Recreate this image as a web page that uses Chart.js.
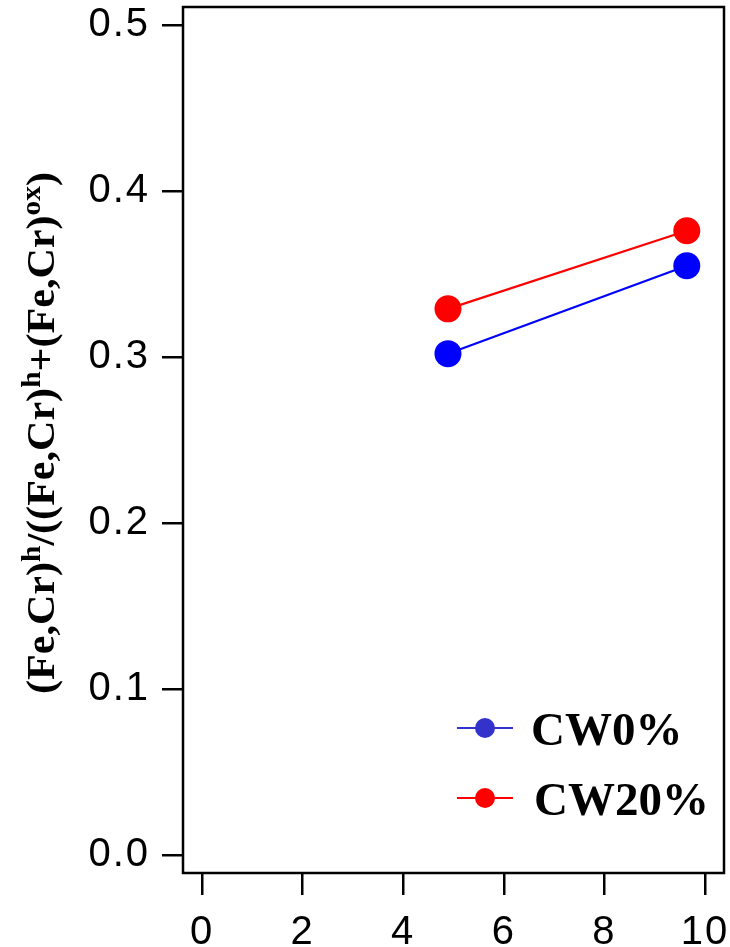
<!DOCTYPE html>
<html>
<head>
<meta charset="utf-8">
<script src="https://cdn.jsdelivr.net/npm/chart.js@4"></script>
<style>
  html, body { margin: 0; padding: 0; background: #fff; }
  canvas { display: block; }
</style>
</head>
<body>
<canvas id="chart" width="730" height="947"></canvas>
<script>
// values
const X_TICKS = [0, 2, 4, 6, 8, 10];
const Y_TICKS = [0.0, 0.1, 0.2, 0.3, 0.4, 0.5];
const CW0_X = [4.89, 9.64];
const CW0_Y = [0.302, 0.355];
const CW20_X = [4.89, 9.64];
const CW20_Y = [0.329, 0.376];
const SERIES_LABELS = ['CW0%', 'CW20%'];
const TITLE_PARTS = [
  ['(Fe,Cr)', false], ['h', true], ['/((Fe,Cr)', false], ['h', true],
  ['+(Fe,Cr)', false], ['ox', true], [')', false],
];

const toPoints = (xs, ys) => xs.map((x, i) => ({ x, y: ys[i] }));

// tick labels in the original are a little spaced out
const spacing = {
  id: 'spacing',
  beforeDraw(chart) { chart.ctx.letterSpacing = '2px'; },
  afterDatasetsDraw(chart) { chart.ctx.letterSpacing = '0px'; },
};

const frame = {
  id: 'frame',
  afterDraw(chart) {
    const { ctx, chartArea: a } = chart;
    ctx.save();
    ctx.strokeStyle = '#000';
    ctx.lineWidth = 2.5;
    ctx.strokeRect(a.left, a.top, a.right - a.left, a.bottom - a.top);
    ctx.restore();
  },
};

const yTitle = {
  id: 'yTitle',
  afterDraw(chart) {
    const ctx = chart.ctx;
    const main = 'bold 40px "Liberation Serif", "Times New Roman", serif';
    const sup = 'bold 28px "Liberation Serif", "Times New Roman", serif';
    ctx.save();
    ctx.letterSpacing = '0px';
    let total = 0;
    TITLE_PARTS.forEach(([t, s]) => { ctx.font = s ? sup : main; total += ctx.measureText(t).width; });
    const len = 522;
    ctx.translate(54, 433);
    ctx.rotate(-Math.PI / 2);
    ctx.scale(len / total, 1);
    ctx.fillStyle = '#000';
    ctx.textBaseline = 'alphabetic';
    let x = -total / 2;
    TITLE_PARTS.forEach(([t, s]) => {
      ctx.font = s ? sup : main;
      ctx.fillText(t, x, s ? -14 : 0);
      x += ctx.measureText(t).width;
    });
    ctx.restore();
  },
};

const legendBox = {
  id: 'legendBox',
  afterDraw(chart) {
    const ctx = chart.ctx;
    const colors = ['#3333cc', '#ff0000'];
    const rows = [728, 798];
    ctx.save();
    ctx.letterSpacing = '0px';
    rows.forEach((y, i) => {
      ctx.strokeStyle = colors[i];
      ctx.fillStyle = colors[i];
      ctx.lineWidth = 2;
      ctx.beginPath();
      ctx.moveTo(457, y);
      ctx.lineTo(513, y);
      ctx.stroke();
      ctx.beginPath();
      ctx.arc(485, y, 10, 0, Math.PI * 2);
      ctx.fill();
      ctx.fillStyle = '#000';
      ctx.font = 'bold 47px "Liberation Serif", "Times New Roman", serif';
      ctx.textBaseline = 'alphabetic';
      ctx.fillText(SERIES_LABELS[i], i === 0 ? 531 : 534, y + 17);
    });
    ctx.restore();
  },
};

const tickFont = { family: '"Liberation Sans", Arial, sans-serif', size: 40 };

new Chart(document.getElementById('chart'), {
  type: 'scatter',
  data: {
    datasets: [
      {
        label: SERIES_LABELS[0],
        data: toPoints(CW0_X, CW0_Y),
        showLine: true,
        borderColor: '#0000ff',
        backgroundColor: '#0000ff',
        borderWidth: 2.2,
        pointRadius: 13.5,
        pointBorderWidth: 0,
      },
      {
        label: SERIES_LABELS[1],
        data: toPoints(CW20_X, CW20_Y),
        showLine: true,
        borderColor: '#ff0000',
        backgroundColor: '#ff0000',
        borderWidth: 2.2,
        pointRadius: 13.5,
        pointBorderWidth: 0,
      },
    ],
  },
  options: {
    responsive: false,
    animation: false,
    layout: { autoPadding: false, padding: { left: 0, right: 6, top: 7, bottom: 0 } },
    plugins: {
      legend: { display: false },
      tooltip: { enabled: false },
    },
    scales: {
      x: {
        type: 'linear',
        min: -0.38,
        max: 10.38,
        afterBuildTicks: (s) => { s.ticks = X_TICKS.map((v) => ({ value: v })); },
        afterFit: (s) => { s.height = 74; s.paddingLeft = 0; s.paddingRight = 0; },
        border: { display: false },
        grid: { drawOnChartArea: false, drawTicks: true, tickLength: 22, tickColor: '#000', lineWidth: 2.5 },
        ticks: { color: '#000', font: tickFont, padding: 14, maxRotation: 0 },
      },
      y: {
        type: 'linear',
        min: -0.0108,
        max: 0.5108,
        afterBuildTicks: (s) => { s.ticks = Y_TICKS.map((v) => ({ value: v })); },
        afterFit: (s) => { s.width = 183; s.paddingTop = 0; s.paddingBottom = 0; },
        border: { display: false },
        grid: { drawOnChartArea: false, drawTicks: true, tickLength: 21, tickColor: '#000', lineWidth: 2.5 },
        ticks: { color: '#000', font: tickFont, padding: 12, callback: (v) => v.toFixed(1) },
      },
    },
  },
  plugins: [spacing, frame, yTitle, legendBox],
});
</script>
</body>
</html>
